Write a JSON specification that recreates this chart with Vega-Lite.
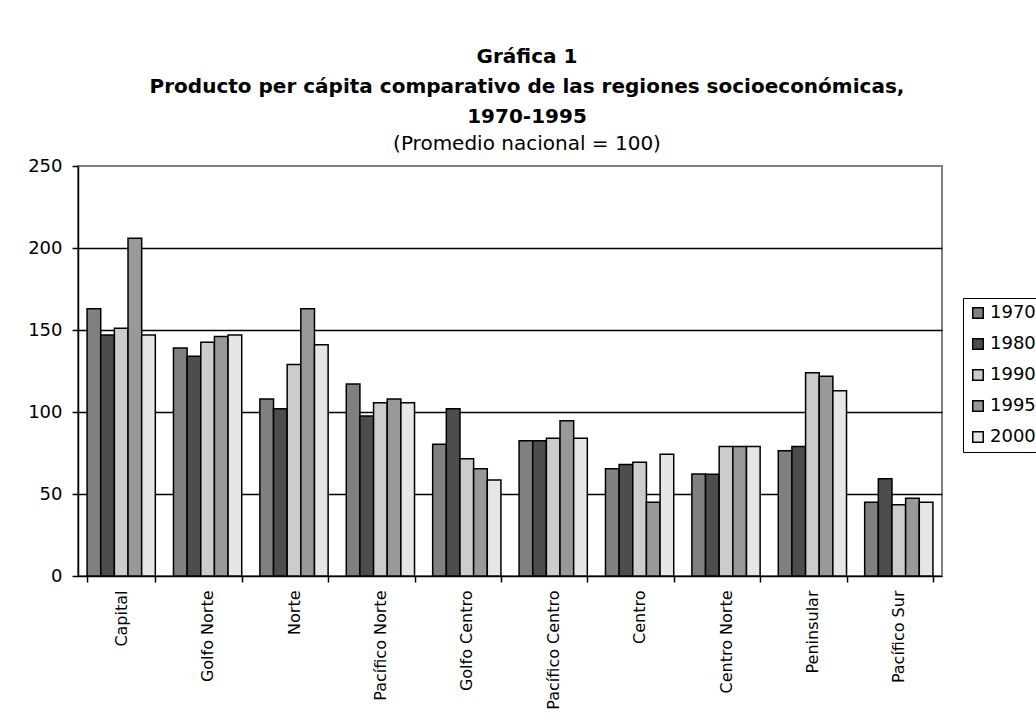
{
  "$schema": "https://vega.github.io/schema/vega-lite/v6.json",
  "width": 864,
  "height": 410,
  "autosize": {"type": "none"},
  "padding": {"left": 78, "top": 166, "right": 94, "bottom": 146},
  "background": "white",
  "title": {
    "text": ["Gráfica 1", "Producto per cápita comparativo de las regiones socioeconómicas,", "1970-1995"],
    "subtitle": "(Promedio nacional = 100)",
    "anchor": "middle",
    "frame": "group",
    "dx": 17,
    "font": "DejaVu Sans",
    "fontSize": 20,
    "fontWeight": "bold",
    "color": "black",
    "lineHeight": 30,
    "subtitleFont": "DejaVu Sans",
    "subtitleFontSize": 20,
    "subtitleColor": "black",
    "subtitlePadding": 7,
    "offset": 3
  },
  "data": {
    "values": [
      {"region": "Capital", "year": "1970", "value": 163},
      {"region": "Capital", "year": "1980", "value": 147},
      {"region": "Capital", "year": "1990", "value": 151},
      {"region": "Capital", "year": "1995", "value": 206},
      {"region": "Capital", "year": "2000", "value": 147},
      {"region": "Golfo Norte", "year": "1970", "value": 139},
      {"region": "Golfo Norte", "year": "1980", "value": 134},
      {"region": "Golfo Norte", "year": "1990", "value": 142.5},
      {"region": "Golfo Norte", "year": "1995", "value": 146},
      {"region": "Golfo Norte", "year": "2000", "value": 147},
      {"region": "Norte", "year": "1970", "value": 108},
      {"region": "Norte", "year": "1980", "value": 102},
      {"region": "Norte", "year": "1990", "value": 129},
      {"region": "Norte", "year": "1995", "value": 163},
      {"region": "Norte", "year": "2000", "value": 141},
      {"region": "Pacífico Norte", "year": "1970", "value": 117},
      {"region": "Pacífico Norte", "year": "1980", "value": 97.5},
      {"region": "Pacífico Norte", "year": "1990", "value": 105.7},
      {"region": "Pacífico Norte", "year": "1995", "value": 108},
      {"region": "Pacífico Norte", "year": "2000", "value": 105.7},
      {"region": "Golfo Centro", "year": "1970", "value": 80.3},
      {"region": "Golfo Centro", "year": "1980", "value": 102},
      {"region": "Golfo Centro", "year": "1990", "value": 71.5},
      {"region": "Golfo Centro", "year": "1995", "value": 65.4},
      {"region": "Golfo Centro", "year": "2000", "value": 58.5},
      {"region": "Pacífico Centro", "year": "1970", "value": 82.5},
      {"region": "Pacífico Centro", "year": "1980", "value": 82.5},
      {"region": "Pacífico Centro", "year": "1990", "value": 84},
      {"region": "Pacífico Centro", "year": "1995", "value": 94.7},
      {"region": "Pacífico Centro", "year": "2000", "value": 84},
      {"region": "Centro", "year": "1970", "value": 65.4},
      {"region": "Centro", "year": "1980", "value": 68},
      {"region": "Centro", "year": "1990", "value": 69.4},
      {"region": "Centro", "year": "1995", "value": 45},
      {"region": "Centro", "year": "2000", "value": 74.2},
      {"region": "Centro Norte", "year": "1970", "value": 62.2},
      {"region": "Centro Norte", "year": "1980", "value": 62},
      {"region": "Centro Norte", "year": "1990", "value": 79},
      {"region": "Centro Norte", "year": "1995", "value": 79},
      {"region": "Centro Norte", "year": "2000", "value": 79},
      {"region": "Peninsular", "year": "1970", "value": 76.4},
      {"region": "Peninsular", "year": "1980", "value": 79},
      {"region": "Peninsular", "year": "1990", "value": 124},
      {"region": "Peninsular", "year": "1995", "value": 121.8},
      {"region": "Peninsular", "year": "2000", "value": 113},
      {"region": "Pacífico Sur", "year": "1970", "value": 45},
      {"region": "Pacífico Sur", "year": "1980", "value": 59.3},
      {"region": "Pacífico Sur", "year": "1990", "value": 43.5},
      {"region": "Pacífico Sur", "year": "1995", "value": 47.4},
      {"region": "Pacífico Sur", "year": "2000", "value": 45}
    ]
  },
  "mark": {"type": "bar", "stroke": "black", "strokeWidth": 1.5},
  "encoding": {
    "x": {
      "field": "region",
      "type": "nominal",
      "sort": null,
      "title": null,
      "scale": {"paddingInner": 0.21, "paddingOuter": 0.105},
      "axis": {
        "labelAngle": -90,
        "labelAlign": "right",
        "labelBaseline": "middle",
        "labelFont": "DejaVu Sans",
        "labelFontSize": 16,
        "labelColor": "black",
        "labelPadding": 8,
        "tickBand": "extent",
        "tickColor": "black",
        "tickWidth": 1.5,
        "tickSize": 6,
        "domainColor": "black",
        "domainWidth": 1.5,
        "grid": false
      }
    },
    "xOffset": {"field": "year", "type": "nominal", "scale": {"paddingInner": 0, "paddingOuter": 0}},
    "y": {
      "field": "value",
      "type": "quantitative",
      "title": null,
      "scale": {"domain": [0, 250], "nice": false},
      "axis": {
        "values": [0, 50, 100, 150, 200, 250],
        "labelFont": "DejaVu Sans",
        "labelFontSize": 18,
        "labelColor": "black",
        "labelPadding": 10,
        "tickColor": "black",
        "tickWidth": 1.5,
        "tickSize": 6,
        "domainColor": "black",
        "domainWidth": 1.5,
        "grid": true,
        "gridColor": {"condition": {"test": "datum.value === 0 || datum.value === 250", "value": "transparent"}, "value": "black"},
        "gridWidth": 1.5
      }
    },
    "fill": {
      "field": "year",
      "type": "nominal",
      "title": null,
      "scale": {
        "domain": ["1970", "1980", "1990", "1995", "2000"],
        "range": ["#808080", "#4d4d4d", "#cccccc", "#999999", "#e6e6e6"]
      },
      "legend": {
        "orient": "none",
        "legendX": 885,
        "legendY": 132,
        "symbolType": "square",
        "symbolSize": 110,
        "symbolStrokeColor": "black",
        "symbolStrokeWidth": 1.5,
        "labelFont": "DejaVu Sans",
        "labelFontSize": 18,
        "labelColor": "black",
        "labelOffset": 3,
        "rowPadding": 13,
        "padding": 6,
        "strokeColor": "black",
        "fillColor": "white"
      }
    }
  },
  "config": {
    "view": {"stroke": "#808080", "strokeWidth": 2}
  }
}
